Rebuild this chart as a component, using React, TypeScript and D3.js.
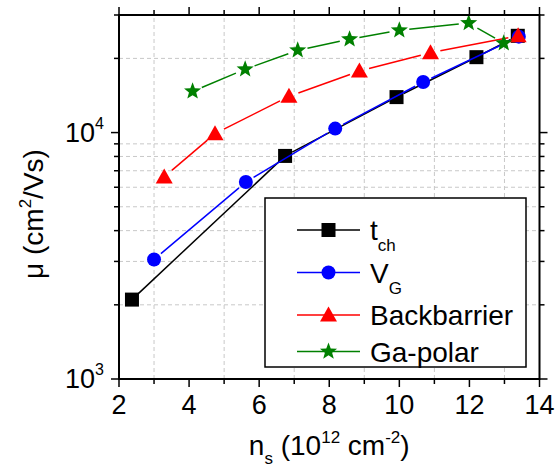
import React from 'react';
import * as d3 from 'd3';

// data
const xMajorTicks = [2, 4, 6, 8, 10, 12, 14];
const xMinorTicks = [3, 5, 7, 9, 11, 13];
const yMajorTicks = [1000, 10000];
const yMinorTicks = [2000, 3000, 4000, 5000, 6000, 7000, 8000, 9000, 20000, 30000];

const tchX = [2.37, 6.74, 9.92, 12.2, 13.38];
const tchY = [2100, 8040, 13930, 20230, 24700];
const vgX = [3.0, 5.62, 8.17, 10.68, 13.41];
const vgY = [3055, 6300, 10380, 16030, 24500];
const bbX = [3.29, 4.74, 6.85, 8.86, 10.89, 13.39];
const bbY = [6610, 9900, 14030, 17770, 21090, 24700];
const gaX = [4.1, 5.6, 7.1, 8.58, 10.0, 11.98, 12.98];
const gaY = [14700, 18070, 21570, 23930, 26000, 27820, 23060];

const W = 556;
const H = 472;
const margin = { left: 119, right: 16.5, top: 15, bottom: 93 };
const FONT = "'Liberation Sans', Arial, sans-serif";

function Marker({ shape, x, y, color }) {
  if (shape === 'square') {
    return <rect x={x - 7} y={y - 7} width={14} height={14} fill={color} />;
  }
  if (shape === 'circle') {
    return <circle cx={x} cy={y} r={7} fill={color} />;
  }
  if (shape === 'triangle') {
    return <path d={`M${x},${y - 8.5}L${x + 8.5},${y + 6.5}L${x - 8.5},${y + 6.5}Z`} fill={color} />;
  }
  // star
  const pts = [];
  for (let i = 0; i < 10; i++) {
    const r = i % 2 === 0 ? 9 : 3.8;
    const a = -Math.PI / 2 + (i * Math.PI) / 5;
    pts.push([x + r * Math.cos(a), y + r * Math.sin(a)]);
  }
  return <path d={'M' + pts.map(p => p.join(',')).join('L') + 'Z'} fill={color} />;
}

function Series({ xs, ys, x, y, color, shape, gap }) {
  const pts = xs.map((v, i) => [x(v), y(ys[i])]);
  const segs = [];
  for (let i = 0; i < pts.length - 1; i++) {
    const [x1, y1] = pts[i];
    const [x2, y2] = pts[i + 1];
    const len = Math.hypot(x2 - x1, y2 - y1);
    if (len <= 2 * gap) continue;
    const ux = (x2 - x1) / len;
    const uy = (y2 - y1) / len;
    segs.push(
      <line key={i} x1={x1 + ux * gap} y1={y1 + uy * gap} x2={x2 - ux * gap} y2={y2 - uy * gap}
        stroke={color} strokeWidth={1.5} />
    );
  }
  return (
    <g>
      {segs}
      {pts.map((p, i) => <Marker key={i} shape={shape} x={p[0]} y={p[1]} color={color} />)}
    </g>
  );
}

export default function App() {
  const x = d3.scaleLinear().domain([2, 14]).range([margin.left, W - margin.right]);
  const y = d3.scaleLog().domain([1000, 30000]).range([H - margin.bottom, margin.top]);
  const x0 = x.range()[0], x1 = x.range()[1];
  const y0 = y.range()[0], y1 = y.range()[1];

  const series = [
    { label: 't', sub: 'ch', xs: tchX, ys: tchY, color: '#000000', shape: 'square', gap: 8 },
    { label: 'V', sub: 'G', xs: vgX, ys: vgY, color: '#0000ff', shape: 'circle', gap: 9 },
    { label: 'Backbarrier', sub: '', xs: bbX, ys: bbY, color: '#ff0000', shape: 'triangle', gap: 10 },
    { label: 'Ga-polar', sub: '', xs: gaX, ys: gaY, color: '#008000', shape: 'star', gap: 10 },
  ];
  const legendRows = [230, 272.5, 315, 351.5];

  return (
    <svg width={W} height={H} style={{ position: 'absolute', left: 0, top: 0, background: '#fff' }}
      fontFamily={FONT}>
      {/* grid */}
      {xMinorTicks.map(t => (
        <line key={'gx' + t} x1={x(t)} x2={x(t)} y1={y0} y2={y1} stroke="#c8c8c8" strokeWidth={1} strokeDasharray="4,3" />
      ))}
      {yMinorTicks.filter(t => t < 30000).map(t => (
        <line key={'gy' + t} x1={x0} x2={x1} y1={y(t)} y2={y(t)} stroke="#c8c8c8" strokeWidth={1} strokeDasharray="4,3" />
      ))}

      {/* data */}
      {series.map(s => (
        <Series key={s.label} xs={s.xs} ys={s.ys} x={x} y={y} color={s.color} shape={s.shape} gap={s.gap} />
      ))}

      {/* frame */}
      <rect x={x0} y={y1} width={x1 - x0} height={y0 - y1} fill="none" stroke="#000" strokeWidth={2} />

      {/* x ticks */}
      {xMajorTicks.map(t => (
        <g key={'xt' + t}>
          <line x1={x(t)} x2={x(t)} y1={y0} y2={y0 + 8} stroke="#000" strokeWidth={1.5} />
          <line x1={x(t)} x2={x(t)} y1={y1} y2={y1 - 8} stroke="#000" strokeWidth={1.5} />
          <text x={x(t)} y={y0 + 35} textAnchor="middle" fontSize={27}>{t}</text>
        </g>
      ))}
      {xMinorTicks.map(t => (
        <g key={'xm' + t}>
          <line x1={x(t)} x2={x(t)} y1={y0} y2={y0 + 5} stroke="#000" strokeWidth={1.5} />
          <line x1={x(t)} x2={x(t)} y1={y1} y2={y1 - 5} stroke="#000" strokeWidth={1.5} />
        </g>
      ))}

      {/* y ticks */}
      {yMajorTicks.map(t => (
        <g key={'yt' + t}>
          <line x1={x0} x2={x0 - 8} y1={y(t)} y2={y(t)} stroke="#000" strokeWidth={1.5} />
          <line x1={x1} x2={x1 + 8} y1={y(t)} y2={y(t)} stroke="#000" strokeWidth={1.5} />
          <text x={104} y={y(t) + 9} textAnchor="end" fontSize={27}>
            10<tspan dy={-13} fontSize={16}>{Math.round(Math.log10(t))}</tspan>
          </text>
        </g>
      ))}
      {yMinorTicks.map(t => (
        <g key={'ym' + t}>
          <line x1={x0} x2={x0 - 5} y1={y(t)} y2={y(t)} stroke="#000" strokeWidth={1.5} />
          <line x1={x1} x2={x1 + 5} y1={y(t)} y2={y(t)} stroke="#000" strokeWidth={1.5} />
        </g>
      ))}

      {/* axis titles */}
      <text x={(x0 + x1) / 2} y={455} textAnchor="middle" fontSize={28}>
        n<tspan dy={9} fontSize={17}>s</tspan>
        <tspan dy={-9}> (10</tspan>
        <tspan dy={-12} fontSize={17}>12</tspan>
        <tspan dy={12}> cm</tspan>
        <tspan dy={-12} fontSize={17}>-2</tspan>
        <tspan dy={12}>)</tspan>
      </text>
      <text transform="translate(43,214) rotate(-90)" textAnchor="middle" fontSize={28}>
        μ (cm<tspan dy={-12} fontSize={17}>2</tspan>
        <tspan dy={12}>/Vs)</tspan>
      </text>

      {/* legend */}
      <rect x={265} y={198} width={261} height={169} fill="#fff" stroke="#000" strokeWidth={1.5} />
      {series.map((s, i) => (
        <g key={'lg' + s.label}>
          <line x1={297} x2={360} y1={legendRows[i]} y2={legendRows[i]} stroke={s.color} strokeWidth={1.5} />
          <Marker shape={s.shape} x={328.5} y={legendRows[i]} color={s.color} />
          <text x={370} y={legendRows[i] + 10} fontSize={28}>
            {s.label}
            {s.sub && <tspan dy={11} fontSize={17}>{s.sub}</tspan>}
          </text>
        </g>
      ))}
    </svg>
  );
}
